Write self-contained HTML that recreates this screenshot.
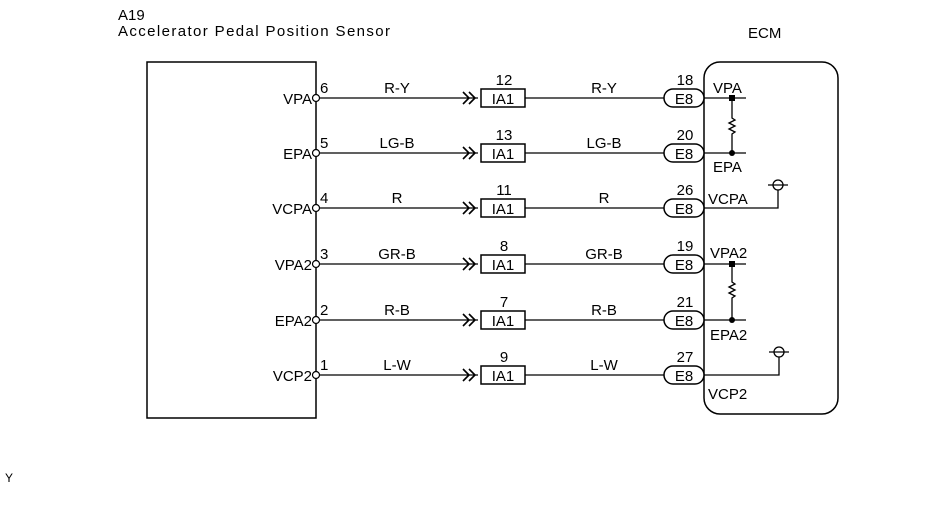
<!DOCTYPE html>
<html><head><style>body{margin:0;background:#fff}svg{display:block}text{font-family:"Liberation Sans",Arial,sans-serif;fill:#000;font-size:15px}</style></head>
<body>
<svg width="945" height="505" viewBox="0 0 945 505" xmlns="http://www.w3.org/2000/svg">
<text x="118" y="20">A19</text>
<text x="118" y="36" textLength="272" lengthAdjust="spacing">Accelerator Pedal Position  Sensor</text>
<text x="748" y="38">ECM</text>
<rect x="147" y="62" width="169" height="356" fill="none" stroke="#000" stroke-width="1.5"/>
<rect x="704" y="62" width="134" height="352" rx="16" fill="none" stroke="#000" stroke-width="1.5"/>

<g stroke="#000" stroke-width="1.3" fill="none">
<line x1="320" y1="98" x2="478" y2="98"/><line x1="525" y1="98" x2="664" y2="98"/>
<line x1="320" y1="153" x2="478" y2="153"/><line x1="525" y1="153" x2="664" y2="153"/>
<line x1="320" y1="208" x2="478" y2="208"/><line x1="525" y1="208" x2="664" y2="208"/>
<line x1="320" y1="264" x2="478" y2="264"/><line x1="525" y1="264" x2="664" y2="264"/>
<line x1="320" y1="320" x2="478" y2="320"/><line x1="525" y1="320" x2="664" y2="320"/>
<line x1="320" y1="375" x2="478" y2="375"/><line x1="525" y1="375" x2="664" y2="375"/>
</g>
<g stroke="#000" stroke-width="1.6" fill="none">
<path d="M463 92 l6 6 -6 6 M469 92 l6 6 -6 6"/>
<path d="M463 147 l6 6 -6 6 M469 147 l6 6 -6 6"/>
<path d="M463 202 l6 6 -6 6 M469 202 l6 6 -6 6"/>
<path d="M463 258 l6 6 -6 6 M469 258 l6 6 -6 6"/>
<path d="M463 314 l6 6 -6 6 M469 314 l6 6 -6 6"/>
<path d="M463 369 l6 6 -6 6 M469 369 l6 6 -6 6"/>
</g>
<g stroke="#000" stroke-width="1.5" fill="#fff">
<rect x="481" y="89" width="44" height="18"/><rect x="481" y="144" width="44" height="18"/>
<rect x="481" y="199" width="44" height="18"/><rect x="481" y="255" width="44" height="18"/>
<rect x="481" y="311" width="44" height="18"/><rect x="481" y="366" width="44" height="18"/>
<rect x="664" y="89" width="40" height="18" rx="9"/><rect x="664" y="144" width="40" height="18" rx="9"/>
<rect x="664" y="199" width="40" height="18" rx="9"/><rect x="664" y="255" width="40" height="18" rx="9"/>
<rect x="664" y="311" width="40" height="18" rx="9"/><rect x="664" y="366" width="40" height="18" rx="9"/>
</g>
<g stroke="#000" stroke-width="1.2" fill="#fff">
<circle cx="316" cy="98" r="3.5"/><circle cx="316" cy="153" r="3.5"/><circle cx="316" cy="208" r="3.5"/>
<circle cx="316" cy="264" r="3.5"/><circle cx="316" cy="320" r="3.5"/><circle cx="316" cy="375" r="3.5"/>
</g>
<g text-anchor="end">
<text x="312" y="104">VPA</text><text x="312" y="159">EPA</text><text x="312" y="214">VCPA</text>
<text x="312" y="270">VPA2</text><text x="312" y="326">EPA2</text><text x="312" y="381">VCP2</text>
</g>
<text x="320" y="93">6</text><text x="320" y="148">5</text><text x="320" y="203">4</text>
<text x="320" y="259">3</text><text x="320" y="315">2</text><text x="320" y="370">1</text>
<g text-anchor="middle">
<text x="397" y="93">R-Y</text><text x="397" y="148">LG-B</text><text x="397" y="203">R</text>
<text x="397" y="259">GR-B</text><text x="397" y="315">R-B</text><text x="397" y="370">L-W</text>
<text x="604" y="93">R-Y</text><text x="604" y="148">LG-B</text><text x="604" y="203">R</text>
<text x="604" y="259">GR-B</text><text x="604" y="315">R-B</text><text x="604" y="370">L-W</text>
<text x="504" y="85">12</text><text x="504" y="140">13</text><text x="504" y="195">11</text>
<text x="504" y="251">8</text><text x="504" y="307">7</text><text x="504" y="362">9</text>
<text x="503" y="104">IA1</text><text x="503" y="159">IA1</text><text x="503" y="214">IA1</text>
<text x="503" y="270">IA1</text><text x="503" y="326">IA1</text><text x="503" y="381">IA1</text>
<text x="685" y="85">18</text><text x="685" y="140">20</text><text x="685" y="195">26</text>
<text x="685" y="251">19</text><text x="685" y="307">21</text><text x="685" y="362">27</text>
<text x="684" y="104">E8</text><text x="684" y="159">E8</text><text x="684" y="214">E8</text>
<text x="684" y="270">E8</text><text x="684" y="326">E8</text><text x="684" y="381">E8</text>
</g>

<g stroke="#000" stroke-width="1.3" fill="none">
<line x1="704" y1="98" x2="746" y2="98"/><line x1="704" y1="153" x2="746" y2="153"/>
<path d="M732 98 V118 l3 2 -6 3 6 3 -6 3 6 3 -3 2 V153"/>
<line x1="704" y1="264" x2="746" y2="264"/><line x1="704" y1="320" x2="746" y2="320"/>
<path d="M732 264 V282 l3 2 -6 3 6 3 -6 3 6 3 -3 2 V320"/>
<path d="M704 208 H778 V190"/><circle cx="778" cy="185" r="5"/><line x1="768" y1="185" x2="788" y2="185"/>
<path d="M704 375 H779 V357"/><circle cx="779" cy="352" r="5"/><line x1="769" y1="352" x2="789" y2="352"/>
</g>
<g fill="#000"><rect x="729" y="95" width="6" height="6"/><circle cx="732" cy="153" r="3"/>
<rect x="729" y="261" width="6" height="6"/><circle cx="732" cy="320" r="3"/></g>
<text x="713" y="93">VPA</text><text x="713" y="172">EPA</text><text x="708" y="204">VCPA</text>
<text x="710" y="258">VPA2</text><text x="710" y="340">EPA2</text><text x="708" y="399">VCP2</text>
<text x="5" y="482" style="font-size:12px">Y</text>
</svg>
</body></html>
